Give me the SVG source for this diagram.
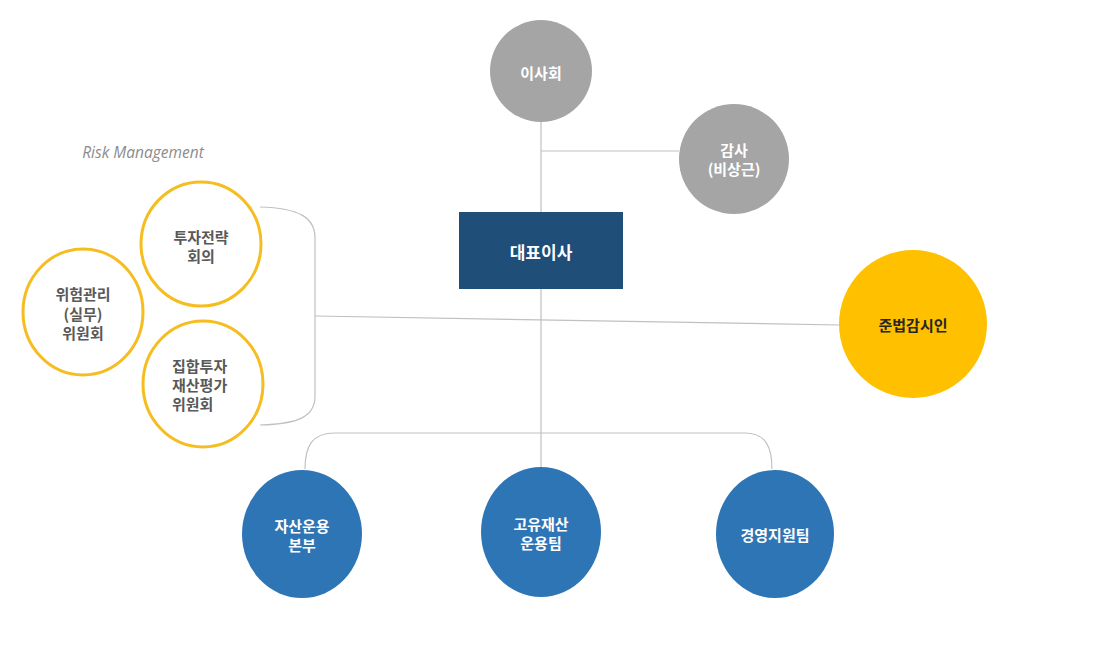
<svg xmlns="http://www.w3.org/2000/svg" width="1094" height="655" viewBox="0 0 1094 655">
<style>
text{font-family:"Noto Sans CJK KR","Noto Sans",sans-serif;font-weight:bold;text-anchor:middle;dominant-baseline:central}
.w{fill:#ffffff}
.g{fill:#595959}
.k{fill:#262626}
.gray{fill:#a5a5a5}
.blue{fill:#2e75b6}
.ring{fill:#ffffff;stroke:#f5bd1f;stroke-width:3}
.ln{fill:none;stroke:#c0c0c0;stroke-width:1.2}
</style>
<rect width="1094" height="655" fill="#ffffff"/>
<g id="connectors">
<path class="ln" d="M541,122 V212"/>
<path class="ln" d="M541,151 H679"/>
<path class="ln" d="M541,289 V467"/>
<path class="ln" d="M315,316 L840,325"/>
<path class="ln" d="M260,207 C300,208 315,218 315,238 V396 C315,416 300,424 260,425"/>
<path class="ln" d="M305,469 C305,446 312,433 335,433 H745 C765,433 772,446 772,469"/>
</g>
<text x="143" y="152" style="font-family:'Open Sans','Noto Sans',sans-serif;font-weight:normal;font-style:italic;font-size:15.5px;fill:#8c8c8c">Risk Management</text>
<g id="board">
<circle class="gray" cx="541" cy="71" r="51"/>
<text class="w" x="541" y="72" font-size="15">이사회</text>
</g>
<g id="auditor">
<circle class="gray" cx="734" cy="159" r="55"/>
<text class="w" x="734" y="149" font-size="15">감사</text>
<text class="w" x="734" y="168" font-size="15">(비상근)</text>
</g>
<g id="ceo">
<rect x="459" y="212" width="164" height="77" fill="#1f4e79"/>
<text class="w" x="541" y="251" font-size="17">대표이사</text>
</g>
<g id="compliance">
<circle cx="913" cy="324" r="74" fill="#ffc000"/>
<text class="k" x="913" y="324" font-size="15">준법감시인</text>
</g>
<g id="strategy">
<ellipse class="ring" cx="201" cy="244" rx="60" ry="62"/>
<text class="g" x="201" y="236" font-size="15">투자전략</text>
<text class="g" x="201" y="255" font-size="15">회의</text>
</g>
<g id="risk">
<ellipse class="ring" cx="83" cy="312" rx="60" ry="63"/>
<text class="g" x="83" y="293" font-size="15">위험관리</text>
<text class="g" x="83" y="313" font-size="15">(실무)</text>
<text class="g" x="83" y="332" font-size="15">위원회</text>
</g>
<g id="valuation">
<ellipse class="ring" cx="203" cy="384" rx="60" ry="63"/>
<text class="g" x="172" y="365" font-size="15" style="text-anchor:start">집합투자</text>
<text class="g" x="172" y="384" font-size="15" style="text-anchor:start">재산평가</text>
<text class="g" x="172" y="403" font-size="15" style="text-anchor:start">위원회</text>
</g>
<g id="asset">
<ellipse class="blue" cx="302" cy="534" rx="60" ry="64"/>
<text class="w" x="302" y="525" font-size="15">자산운용</text>
<text class="w" x="302" y="544" font-size="15">본부</text>
</g>
<g id="proprietary">
<ellipse class="blue" cx="541" cy="532" rx="60" ry="65"/>
<text class="w" x="541" y="523" font-size="15">고유재산</text>
<text class="w" x="541" y="542" font-size="15">운용팀</text>
</g>
<g id="support">
<ellipse class="blue" cx="775" cy="534" rx="59" ry="64"/>
<text class="w" x="775" y="534" font-size="15">경영지원팀</text>
</g>
</svg>
